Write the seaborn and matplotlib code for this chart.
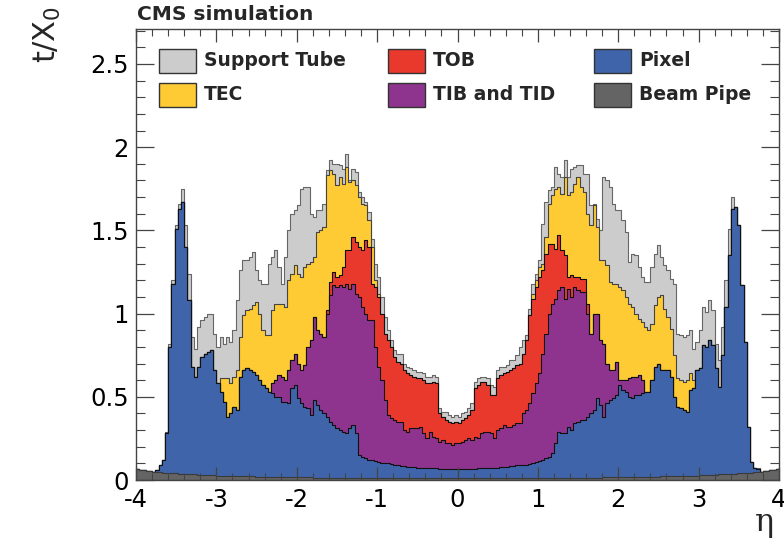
import numpy as np
import pandas as pd
import matplotlib
matplotlib.use("Agg")
import matplotlib.pyplot as plt
from matplotlib.patches import Rectangle
from matplotlib.ticker import MultipleLocator, FuncFormatter
import seaborn as sns

nan = np.nan

# 200 bins of 0.04 in eta between -4 and 4
n_bins = 200
eta_range = (-4.0, 4.0)

# Cumulative t/X0 at the top of each stacked layer (nan where the layer adds nothing)
beam_pipe = [
    0.066, 0.062, 0.058, 0.055, 0.052, 0.050, 0.048, 0.046, 0.044, 0.043, 0.042, 0.041, 0.040, 0.039, 0.038, 0.037, 0.036, 0.035, 0.034, 0.033,
    0.032, 0.031, 0.030, 0.029, 0.028, 0.027, 0.027, 0.026, 0.026, 0.025, 0.025, 0.024, 0.024, 0.023, 0.023, 0.022, 0.022, 0.021, 0.021, 0.020,
    0.020, 0.020, 0.019, 0.019, 0.019, 0.018, 0.018, 0.018, 0.017, 0.017, 0.017, 0.016, 0.016, 0.016, 0.016, 0.015, 0.015, 0.015, 0.015, 0.014,
    0.014, 0.014, 0.014, 0.013, 0.013, 0.013, 0.013, 0.013, 0.012, 0.012, 0.012, 0.012, 0.012, 0.011, 0.011, 0.011, 0.011, 0.011, 0.011, 0.010,
    0.010, 0.010, 0.010, 0.010, 0.010, 0.010, 0.010, 0.010, 0.010, 0.010, 0.010, 0.010, 0.010, 0.010, 0.010, 0.010, 0.010, 0.010, 0.010, 0.010,
    0.010, 0.010, 0.010, 0.010, 0.010, 0.010, 0.010, 0.010, 0.010, 0.010, 0.010, 0.010, 0.010, 0.010, 0.010, 0.010, 0.010, 0.010, 0.010, 0.010,
    0.010, 0.011, 0.011, 0.011, 0.011, 0.011, 0.011, 0.012, 0.012, 0.012, 0.012, 0.012, 0.013, 0.013, 0.013, 0.013, 0.013, 0.014, 0.014, 0.014,
    0.014, 0.015, 0.015, 0.015, 0.015, 0.016, 0.016, 0.016, 0.016, 0.017, 0.017, 0.017, 0.018, 0.018, 0.018, 0.019, 0.019, 0.019, 0.020, 0.020,
    0.020, 0.021, 0.021, 0.022, 0.022, 0.023, 0.023, 0.024, 0.024, 0.025, 0.025, 0.026, 0.026, 0.027, 0.027, 0.028, 0.029, 0.030, 0.031, 0.032,
    0.033, 0.034, 0.035, 0.036, 0.037, 0.038, 0.039, 0.040, 0.041, 0.042, 0.043, 0.044, 0.046, 0.048, 0.050, 0.052, 0.055, 0.058, 0.062, 0.068,
]

pixel = [
    nan, nan, nan, nan, nan, nan, 0.060, 0.090, 0.120, 0.280, 0.800, 1.180, 1.510, 1.630, 1.670, 1.400, 1.080, 0.680, 0.620, 0.680,
    0.740, 0.760, 0.770, 0.780, 0.660, 0.580, 0.530, 0.470, 0.380, 0.400, 0.440, 0.420, 0.620, 0.660, 0.670, 0.660, 0.650, 0.630, 0.600, 0.570,
    0.550, 0.530, 0.520, 0.500, 0.500, 0.470, 0.470, 0.460, 0.550, 0.570, 0.490, 0.460, 0.440, 0.430, 0.390, 0.480, 0.450, 0.420, 0.400, 0.380,
    0.350, 0.330, 0.310, 0.300, 0.290, 0.280, 0.310, 0.330, 0.280, 0.150, 0.140, 0.130, 0.120, 0.120, 0.115, 0.110, 0.105, 0.100, 0.100, 0.095,
    0.090, 0.088, 0.085, 0.082, 0.080, 0.078, 0.076, 0.075, 0.074, 0.073, 0.072, 0.071, 0.070, 0.070, 0.069, 0.068, 0.067, 0.066, 0.066, 0.065,
    0.065, 0.066, 0.066, 0.067, 0.068, 0.069, 0.070, 0.070, 0.071, 0.072, 0.073, 0.074, 0.075, 0.077, 0.078, 0.080, 0.083, 0.086, 0.088, 0.090,
    0.090, 0.092, 0.095, 0.105, 0.110, 0.115, 0.120, 0.130, 0.140, 0.160, 0.220, 0.290, 0.280, 0.280, 0.320, 0.300, 0.340, 0.350, 0.360, 0.360,
    0.380, 0.400, 0.420, 0.490, 0.450, 0.380, 0.460, 0.480, 0.490, 0.510, 0.570, 0.540, 0.530, 0.500, 0.490, 0.510, 0.510, 0.520, 0.530, 0.530,
    0.600, 0.680, 0.700, 0.660, 0.660, 0.660, 0.620, 0.500, 0.440, 0.430, 0.420, 0.410, 0.540, 0.550, 0.660, 0.670, 0.810, 0.800, 0.840, 0.810,
    0.670, 0.560, 0.750, 1.040, 1.350, 1.630, 1.640, 1.530, 1.170, 0.830, 0.320, 0.110, 0.075, 0.065, nan, nan, nan, nan, nan, nan,
]

tib_tid = [
    nan, nan, nan, nan, nan, nan, nan, nan, nan, nan, nan, nan, nan, nan, nan, nan, nan, nan, nan, nan,
    nan, nan, nan, nan, nan, nan, nan, nan, nan, nan, nan, nan, nan, nan, nan, nan, nan, nan, nan, nan,
    nan, nan, 0.580, 0.600, 0.630, 0.620, 0.600, 0.660, 0.720, 0.760, 0.700, 0.660, 0.690, 0.800, 0.840, 0.980, 0.900, 0.880, 0.860, 1.000,
    1.110, 1.170, 1.160, 1.170, 1.160, 1.180, 1.150, 1.180, 1.120, 1.100, 1.040, 1.000, 0.960, 0.960, 0.800, 0.680, 0.600, 0.480, 0.390, 0.370,
    0.360, 0.350, 0.350, 0.300, 0.290, 0.310, 0.310, 0.310, 0.320, 0.280, 0.250, 0.290, 0.260, 0.250, 0.230, 0.240, 0.220, 0.220, 0.210, 0.220,
    0.220, 0.230, 0.240, 0.250, 0.240, 0.260, 0.250, 0.280, 0.290, 0.290, 0.280, 0.250, 0.300, 0.310, 0.330, 0.320, 0.320, 0.330, 0.340, 0.340,
    0.400, 0.420, 0.460, 0.520, 0.580, 0.640, 0.760, 0.880, 1.000, 1.060, 1.090, 1.140, 1.160, 1.090, 1.150, 1.100, 1.160, 1.140, 1.130, 1.130,
    1.000, 0.880, 1.000, 1.000, 0.840, 0.820, 0.700, 0.660, 0.660, 0.710, 0.600, 0.600, 0.600, 0.610, 0.620, 0.620, 0.630, 0.600, nan, nan,
    nan, nan, nan, nan, nan, nan, nan, nan, nan, nan, nan, nan, nan, nan, nan, nan, nan, nan, nan, nan,
    nan, nan, nan, nan, nan, nan, nan, nan, nan, nan, nan, nan, nan, nan, nan, nan, nan, nan, nan, nan,
]

tob = [
    nan, nan, nan, nan, nan, nan, nan, nan, nan, nan, nan, nan, nan, nan, nan, nan, nan, nan, nan, nan,
    nan, nan, nan, nan, nan, nan, nan, nan, nan, nan, nan, nan, nan, nan, nan, nan, nan, nan, nan, nan,
    nan, nan, nan, nan, nan, nan, nan, nan, nan, nan, nan, nan, nan, nan, nan, nan, nan, nan, nan, 1.020,
    1.190, 1.250, 1.220, 1.230, 1.280, 1.380, 1.380, 1.460, 1.430, 1.400, 1.380, 1.440, 1.400, 1.180, 1.160, 1.100, 1.000, 0.880, 0.840, 0.800,
    0.740, 0.710, 0.700, 0.660, 0.640, 0.630, 0.620, 0.610, 0.610, 0.600, 0.580, 0.580, 0.590, 0.580, 0.400, 0.380, 0.360, 0.350, 0.340, 0.350,
    0.340, 0.360, 0.370, 0.390, 0.420, 0.550, 0.570, 0.590, 0.590, 0.570, 0.510, 0.510, 0.610, 0.630, 0.640, 0.650, 0.660, 0.670, 0.690, 0.700,
    0.760, 0.840, 0.990, 1.090, 1.160, 1.220, 1.260, 1.360, 1.420, 1.420, 1.390, 1.470, 1.380, 1.350, 1.220, 1.230, 1.220, 1.220, 1.210, 1.210,
    1.060, nan, nan, nan, nan, nan, nan, nan, nan, nan, nan, nan, nan, nan, nan, nan, nan, nan, nan, nan,
    nan, nan, nan, nan, nan, nan, nan, nan, nan, nan, nan, nan, nan, nan, nan, nan, nan, nan, nan, nan,
    nan, nan, nan, nan, nan, nan, nan, nan, nan, nan, nan, nan, nan, nan, nan, nan, nan, nan, nan, nan,
]

tec = [
    nan, nan, nan, nan, nan, nan, nan, nan, nan, nan, nan, nan, nan, nan, nan, nan, nan, nan, nan, nan,
    nan, nan, nan, nan, nan, nan, 0.610, 0.610, 0.610, 0.580, 0.620, 0.660, 0.860, 0.990, 1.020, 1.030, 1.050, 1.070, 1.000, 0.900,
    0.870, 0.870, 1.020, 1.060, 1.060, 1.060, 1.040, 1.200, 1.240, 1.290, 1.240, 1.220, 1.280, 1.300, 1.310, 1.340, 1.490, 1.500, 1.520, 1.830,
    1.860, 1.840, 1.770, 1.820, 1.780, 1.880, 1.790, 1.800, 1.770, 1.700, 1.660, 1.650, 1.560, 1.400, 1.200, 1.120, nan, nan, nan, nan,
    nan, nan, nan, nan, nan, nan, nan, nan, nan, nan, nan, nan, nan, nan, nan, nan, nan, nan, nan, nan,
    nan, nan, nan, nan, nan, nan, nan, nan, nan, nan, nan, nan, nan, nan, nan, nan, nan, nan, nan, nan,
    nan, nan, nan, 1.120, 1.200, 1.280, 1.300, 1.460, 1.660, 1.710, 1.750, 1.760, 1.720, 1.820, 1.710, 1.730, 1.780, 1.820, 1.760, 1.730,
    1.600, 1.530, 1.650, 1.520, 1.320, 1.320, 1.290, 1.190, 1.180, 1.180, 1.160, 1.140, 1.100, 1.060, 1.040, 1.000, 0.970, 0.950, 0.920, 0.900,
    0.940, 1.050, 1.100, 1.110, 1.030, 0.980, 0.910, 0.750, 0.610, 0.600, 0.590, 0.600, 0.640, 0.600, nan, nan, nan, nan, nan, nan,
    nan, nan, nan, nan, nan, nan, nan, nan, nan, nan, nan, nan, nan, nan, nan, nan, nan, nan, nan, nan,
]

support_tube = [
    nan, nan, nan, nan, nan, nan, 0.060, 0.090, 0.120, 0.290, 0.820, 1.200, 1.530, 1.660, 1.750, 1.530, 1.240, 0.860, 0.790, 0.920,
    0.960, 0.980, 1.000, 1.000, 0.880, 0.800, 0.860, 0.820, 0.860, 0.830, 0.900, 1.080, 1.260, 1.320, 1.320, 1.340, 1.370, 1.260, 1.200, 1.180,
    1.180, 1.300, 1.340, 1.380, 1.280, 1.180, 1.340, 1.500, 1.600, 1.620, 1.650, 1.750, 1.760, 1.760, 1.600, 1.580, 1.620, 1.620, 1.660, 1.860,
    1.920, 1.900, 1.900, 1.890, 1.870, 1.960, 1.800, 1.870, 1.850, 1.730, 1.700, 1.670, 1.610, 1.450, 1.300, 1.220, 1.100, 0.980, 0.900, 0.840,
    0.780, 0.760, 0.760, 0.700, 0.680, 0.670, 0.660, 0.650, 0.650, 0.640, 0.620, 0.620, 0.630, 0.620, 0.430, 0.410, 0.410, 0.390, 0.380, 0.390,
    0.380, 0.400, 0.410, 0.430, 0.460, 0.590, 0.610, 0.620, 0.620, 0.610, 0.570, 0.560, 0.660, 0.680, 0.680, 0.690, 0.720, 0.720, 0.750, 0.800,
    0.840, 0.870, 1.030, 1.180, 1.240, 1.320, 1.540, 1.670, 1.740, 1.760, 1.880, 1.840, 1.820, 1.920, 1.820, 1.870, 1.880, 1.890, 1.890, 1.840,
    1.840, 1.650, 1.660, 1.570, 1.500, 1.820, 1.800, 1.760, 1.660, 1.620, 1.620, 1.560, 1.490, 1.310, 1.360, 1.350, 1.280, 1.220, 1.190, 1.190,
    1.280, 1.360, 1.410, 1.340, 1.290, 1.260, 1.210, 1.180, 0.880, 0.870, 0.860, 0.870, 0.900, 0.790, 0.830, 0.900, 1.040, 1.010, 1.080, 1.020,
    0.820, 0.720, 0.920, 1.200, 1.510, 1.700, 1.640, 1.530, 1.170, 0.830, 0.320, 0.110, 0.075, 0.070, nan, nan, nan, nan, nan, nan,
]

layer_names = ["Beam Pipe", "Pixel", "TIB and TID", "TOB", "TEC", "Support Tube"]
layer_values = [beam_pipe, pixel, tib_tid, tob, tec, support_tube]
fill_colors = ["#646464", "#3f64aa", "#8f348e", "#e9392d", "#fecb34", "#cccccc"]
edge_colors = ["#3a3a3a", "#111111", "#111111", "#111111", "#444444", "#666666"]

sns.set_style("ticks")
plt.rcParams["font.family"] = ["DejaVu Sans"]
plt.rcParams["axes.unicode_minus"] = False
plt.rcParams["mathtext.fontset"] = "dejavusans"

W, H = 784, 540
fig = plt.figure(figsize=(W / 100, H / 100), dpi=100)
ax = fig.add_axes([136 / W, 60 / H, 643 / W, 451 / H])

# Build cumulative tops: an absent layer sits on the one below it
width = (eta_range[1] - eta_range[0]) / n_bins
centers = eta_range[0] + width * (np.arange(n_bins) + 0.5)
stack_tops = []
below = np.zeros(n_bins)
for vals in layer_values:
    top = np.asarray(vals, dtype=float)
    top = np.where(np.isnan(top), below, top)
    top = np.maximum(top, below)
    stack_tops.append(top)
    below = top

# Draw from the outermost layer inwards, each filled from zero
for top, fc, ec in reversed(list(zip(stack_tops, fill_colors, edge_colors))):
    df = pd.DataFrame({"eta": centers, "t": top})
    sns.histplot(data=df, x="eta", weights="t", bins=n_bins, binrange=eta_range,
                 element="step", fill=True, color=fc, edgecolor=ec,
                 linewidth=0.8, alpha=1.0, ax=ax)

ax.set_xlim(-4, 4)
ax.set_ylim(0, 2.71)
ax.set_xlabel("")
ax.set_ylabel("")
ax.set_axisbelow(False)

ax.xaxis.set_major_locator(MultipleLocator(1))
ax.xaxis.set_minor_locator(MultipleLocator(0.2))
ax.yaxis.set_major_locator(MultipleLocator(0.5))
ax.yaxis.set_minor_locator(MultipleLocator(0.1))
fmt = FuncFormatter(lambda v, p: f"{v:g}")
ax.xaxis.set_major_formatter(fmt)
ax.yaxis.set_major_formatter(fmt)

ax.tick_params(which="both", direction="in", top=True, right=True,
               color="#444444", labelcolor="black")
ax.tick_params(axis="x", which="major", length=9.5, width=0.9, labelsize=17.5, pad=6)
ax.tick_params(axis="x", which="minor", length=4.7, width=0.8)
ax.tick_params(axis="y", which="major", length=13, width=0.9, labelsize=17.5, pad=5)
ax.tick_params(axis="y", which="minor", length=6.5, width=0.8)
for sp in ax.spines.values():
    sp.set_color("#444444")
    sp.set_linewidth(1.0)
    sp.set_visible(True)

# Legend: three columns of two rows, boxes drawn in figure pixels
legend_order = ["Support Tube", "TEC", "TOB", "TIB and TID", "Pixel", "Beam Pipe"]
col_x = [159, 388, 594]
row_y = [49, 83]
for k, name in enumerate(legend_order):
    x0 = col_x[k // 2]
    y0 = row_y[k % 2]
    idx = layer_names.index(name)
    rect = Rectangle((x0 / W, 1 - (y0 + 24) / H), 37 / W, 24 / H,
                     transform=fig.transFigure, facecolor=fill_colors[idx],
                     edgecolor="#333333", linewidth=1.0)
    fig.add_artist(rect)
    fig.text((x0 + 45) / W, 1 - (y0 + 12) / H, name, fontsize=13.5,
             fontweight="bold", va="center", ha="left")

fig.text(137 / W, 1 - 14 / H, "CMS simulation", fontsize=14.5,
         fontweight="bold", va="center", ha="left")
fig.text(47 / W, 1 - 6 / H, r"t/X$_0$", rotation=90, fontsize=22,
         ha="center", va="top")
fig.text(764 / W, 1 - 538 / H, "η", fontsize=23, family="DejaVu Serif",
         ha="center", va="bottom")

fig.savefig("out.png", dpi=100)
